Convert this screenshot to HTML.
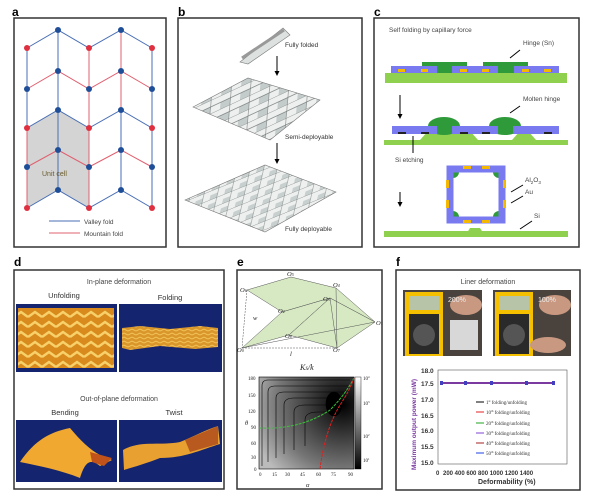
<!DOCTYPE html>
<html><head><meta charset="utf-8"><style>
html,body{margin:0;padding:0;background:#fff;}
svg{display:block;font-family:"Liberation Sans",sans-serif;}
</style></head><body>
<svg width="600" height="504" viewBox="0 0 600 504" xmlns="http://www.w3.org/2000/svg">
<defs>
<pattern id="zz" width="14" height="10" patternUnits="userSpaceOnUse">
<rect width="14" height="10" fill="#d98a1c"/>
<path d="M0,7 L7,2 L14,7" stroke="#f7d06a" stroke-width="2.5" fill="none"/>
</pattern>
<pattern id="zz2" width="8" height="4" patternUnits="userSpaceOnUse">
<rect width="8" height="4" fill="#d9962a"/>
<path d="M0,3 L4,1 L8,3" stroke="#f3c35a" stroke-width="1" fill="none"/>
</pattern>
<pattern id="tile" width="22" height="12" patternUnits="userSpaceOnUse" patternTransform="rotate(-25) skewX(-30)">
<rect width="22" height="12" fill="#eef0ef"/>
<rect x="0" y="6" width="11" height="6" fill="#c3cccb"/>
<path d="M0,0 H22 M11,0 V12 M0,6 H22" stroke="#6f7675" stroke-width="0.6"/>
</pattern>
<pattern id="tile2" width="16" height="8" patternUnits="userSpaceOnUse" patternTransform="rotate(-22) skewX(-35)">
<rect width="16" height="8" fill="#eef0ef"/>
<rect x="0" y="4" width="8" height="4" fill="#c8d0cf"/>
<path d="M0,0 H16 M8,0 V8" stroke="#6f7675" stroke-width="0.5"/>
</pattern>
<radialGradient id="cont" cx="0.88" cy="0.3" r="1">
<stop offset="0" stop-color="#000"/><stop offset="0.3" stop-color="#333"/><stop offset="0.7" stop-color="#777"/><stop offset="1" stop-color="#bbb"/>
</radialGradient>
<linearGradient id="cb" x1="0" y1="0" x2="0" y2="1"><stop offset="0" stop-color="#fff"/><stop offset="1" stop-color="#000"/></linearGradient>
</defs>
<g font-weight="bold" font-size="12" fill="#000">
<text x="12" y="16">a</text><text x="178" y="16">b</text><text x="374" y="16">c</text>
<text x="14" y="266">d</text><text x="237" y="266">e</text><text x="396" y="266">f</text>
</g>
<!-- panel a -->
<rect x="14" y="18" width="152" height="229" fill="#fff" stroke="#333" stroke-width="1.5"/>
<polygon points="27,128 58,110 89,128 89,208 58,190 27,208" fill="#d4d4d4"/>
<g fill="none" stroke-width="1">
<polyline points="27,48 58,30 89,48 121,30 152,48" stroke="#4a6fb5"/>
<polyline points="27,89 58,71 89,89 121,71 152,89" stroke="#e06070"/>
<polyline points="27,128 58,110 89,128 121,110 152,128" stroke="#4a6fb5"/>
<polyline points="27,167 58,150 89,167 121,150 152,167" stroke="#e06070"/>
<polyline points="27,208 58,190 89,208 121,190 152,208" stroke="#4a6fb5"/>
<line x1="27" y1="48" x2="27" y2="128" stroke="#4a6fb5"/><line x1="27" y1="128" x2="27" y2="208" stroke="#e06070"/>
<line x1="58" y1="30" x2="58" y2="190" stroke="#4a6fb5"/>
<line x1="89" y1="48" x2="89" y2="208" stroke="#e06070"/>
<line x1="121" y1="30" x2="121" y2="110" stroke="#e06070"/><line x1="121" y1="110" x2="121" y2="190" stroke="#4a6fb5"/>
<line x1="152" y1="48" x2="152" y2="208" stroke="#4a6fb5"/>
</g>
<g fill="#1f4e99">
<circle cx="58" cy="30" r="3"/><circle cx="121" cy="30" r="3"/>
<circle cx="58" cy="71" r="3"/><circle cx="121" cy="71" r="3"/>
<circle cx="27" cy="89" r="3"/><circle cx="89" cy="89" r="3"/><circle cx="152" cy="89" r="3"/>
<circle cx="58" cy="110" r="3"/><circle cx="121" cy="110" r="3"/>
<circle cx="58" cy="150" r="3"/><circle cx="121" cy="150" r="3"/>
<circle cx="27" cy="167" r="3"/><circle cx="89" cy="167" r="3"/><circle cx="152" cy="167" r="3"/>
<circle cx="58" cy="190" r="3"/><circle cx="121" cy="190" r="3"/>
</g>
<g fill="#e03040">
<circle cx="27" cy="48" r="3"/><circle cx="89" cy="48" r="3"/><circle cx="152" cy="48" r="3"/>
<circle cx="27" cy="128" r="3"/><circle cx="89" cy="128" r="3"/><circle cx="152" cy="128" r="3"/>
<circle cx="27" cy="208" r="3"/><circle cx="89" cy="208" r="3"/><circle cx="152" cy="208" r="3"/>
</g>
<text x="42" y="176" font-size="7" fill="#6a5a2a">Unit cell</text>
<line x1="49" y1="221" x2="80" y2="221" stroke="#4a6fb5"/><text x="84" y="224" font-size="6.5" fill="#444">Valley fold</text>
<line x1="49" y1="233" x2="80" y2="233" stroke="#e06070"/><text x="84" y="236" font-size="6.5" fill="#444">Mountain fold</text>
<!-- panel b -->
<rect x="178" y="18" width="184" height="229" fill="#fff" stroke="#333" stroke-width="1.5"/>
<polygon points="240,62 283,28 290,35 248,64" fill="#dde2e1" stroke="#777" stroke-width="0.6"/>
<polyline points="242,58 284,30" stroke="#999" stroke-width="3" fill="none"/>
<text x="285" y="47" font-size="6.5" fill="#333">Fully folded</text>
<line x1="277" y1="56" x2="277" y2="72" stroke="#000"/><polygon points="274.5,71 279.5,71 277,76" fill="#000"/>
<polygon points="193,107 248,78 320,100 270,140" fill="url(#tile)" stroke="#777" stroke-width="0.6"/>
<text x="285" y="139" font-size="6.5" fill="#333">Semi-deployable</text>
<line x1="277" y1="143" x2="277" y2="160" stroke="#000"/><polygon points="274.5,159 279.5,159 277,164" fill="#000"/>
<polygon points="185,200 265,165 336,192 265,232" fill="url(#tile2)" stroke="#777" stroke-width="0.6"/>
<text x="285" y="231" font-size="6.5" fill="#333">Fully deployable</text>
<!-- panel c -->
<rect x="374" y="18" width="205" height="229" fill="#fff" stroke="#333" stroke-width="1.5"/>
<text x="389" y="32" font-size="6.5" fill="#444">Self folding by capillary force</text>
<text x="523" y="45" font-size="6.5" fill="#444">Hinge (Sn)</text>
<line x1="520" y1="50" x2="510" y2="58" stroke="#000"/>
<rect x="385" y="73" width="182" height="10" fill="#8fd14f"/>
<rect x="422" y="62" width="45" height="11" fill="#2e9a3a"/><rect x="483" y="62" width="45" height="11" fill="#2e9a3a"/>
<rect x="391" y="66" width="46" height="7" fill="#7a7af0"/><rect x="452" y="66" width="46" height="7" fill="#7a7af0"/><rect x="514" y="66" width="45" height="7" fill="#7a7af0"/>
<g fill="#f5b800"><rect x="398" y="69" width="7" height="3"/><rect x="421" y="69" width="7" height="3"/><rect x="460" y="69" width="7" height="3"/><rect x="482" y="69" width="7" height="3"/><rect x="522" y="69" width="7" height="3"/><rect x="544" y="69" width="7" height="3"/></g>
<line x1="400" y1="95" x2="400" y2="115" stroke="#000"/><polygon points="397.5,114 402.5,114 400,119" fill="#000"/>
<text x="523" y="101" font-size="6.5" fill="#444">Molten hinge</text>
<line x1="520" y1="106" x2="510" y2="113" stroke="#000"/>
<path d="M384,140 H420 L428,131 H470 L478,140 H512 L520,131 H528 L536,140 H568 V145 H384 Z" fill="#8fd14f"/>
<ellipse cx="444" cy="126" rx="16" ry="9" fill="#2e9a3a"/><ellipse cx="505" cy="126" rx="16" ry="9" fill="#2e9a3a"/>
<rect x="392" y="126" width="45" height="8" fill="#7a7af0"/><rect x="452" y="126" width="46" height="8" fill="#7a7af0"/><rect x="513" y="126" width="46" height="8" fill="#7a7af0"/>
<g fill="#222"><rect x="398" y="132" width="8" height="2"/><rect x="421" y="132" width="8" height="2"/><rect x="460" y="132" width="8" height="2"/><rect x="482" y="132" width="8" height="2"/><rect x="544" y="132" width="8" height="2"/></g>
<line x1="413" y1="136" x2="413" y2="153" stroke="#000"/>
<text x="395" y="162" font-size="6.5" fill="#444">Si etching</text>
<line x1="400" y1="192" x2="400" y2="203" stroke="#000"/><polygon points="397.5,202 402.5,202 400,207" fill="#000"/>
<path d="M465,236 L470,228 H480 L485,236 Z" fill="#8fd14f"/>
<rect x="384" y="231" width="184" height="6" fill="#8fd14f"/>
<g fill="#2e9a3a"><circle cx="453" cy="172" r="6"/><circle cx="499" cy="172" r="6"/><circle cx="453" cy="217" r="6"/><circle cx="499" cy="217" r="6"/></g>
<rect x="450" y="169" width="52" height="51" fill="none" stroke="#7a7af0" stroke-width="7"/>
<g fill="#f5b800"><rect x="463" y="166" width="8" height="3"/><rect x="482" y="166" width="8" height="3"/><rect x="463" y="220" width="8" height="3"/><rect x="482" y="220" width="8" height="3"/><rect x="446" y="180" width="3" height="8"/><rect x="446" y="200" width="3" height="8"/><rect x="503" y="180" width="3" height="8"/><rect x="503" y="200" width="3" height="8"/></g>
<text x="525" y="182" font-size="6.5" fill="#444">Al<tspan font-size="4.5" dy="2">2</tspan><tspan dy="-2">O</tspan><tspan font-size="4.5" dy="2">3</tspan></text>
<line x1="523" y1="185" x2="511" y2="192" stroke="#000"/>
<text x="525" y="194" font-size="6.5" fill="#444">Au</text>
<line x1="523" y1="196" x2="511" y2="203" stroke="#000"/>
<text x="534" y="218" font-size="6.5" fill="#444">Si</text>
<line x1="532" y1="221" x2="520" y2="229" stroke="#000"/>
<!-- panel d -->
<rect x="14" y="270" width="210" height="219" fill="#fff" stroke="#333" stroke-width="1.5"/>
<text x="119" y="284" font-size="7" fill="#444" text-anchor="middle">In-plane deformation</text>
<text x="64" y="298" font-size="7.5" fill="#333" text-anchor="middle">Unfolding</text>
<text x="170" y="300" font-size="7.5" fill="#333" text-anchor="middle">Folding</text>
<rect x="16" y="304" width="101" height="68" fill="#14246e"/>
<rect x="18" y="308" width="96" height="60" fill="url(#zz)"/>
<rect x="119" y="304" width="103" height="68" fill="#14246e"/>
<path d="M122,328 L140,326 L170,329 L200,326 L218,328 L218,347 L195,349 L160,346 L130,350 L122,348 Z" fill="url(#zz2)"/>
<text x="119" y="401" font-size="7" fill="#444" text-anchor="middle">Out-of-plane deformation</text>
<text x="65" y="415" font-size="7.5" fill="#333" text-anchor="middle">Bending</text>
<text x="174" y="415" font-size="7.5" fill="#333" text-anchor="middle">Twist</text>
<rect x="16" y="420" width="101" height="62" fill="#14246e"/>
<path d="M20,462 C35,440 50,432 70,428 C80,440 90,450 100,455 L112,460 L100,466 C90,458 85,462 80,478 C60,470 40,466 20,462 Z" fill="#f0a830"/>
<path d="M90,452 L112,458 L104,466 L92,462 Z" fill="#c0521a"/>
<rect x="119" y="420" width="103" height="62" fill="#14246e"/>
<path d="M123,450 C140,440 160,446 180,442 C195,436 205,430 218,426 L220,444 C200,450 185,458 160,458 C145,464 130,468 124,470 Z" fill="#e8a030"/>
<path d="M185,440 L218,426 L218,444 L190,452 Z" fill="#b85a20"/>
<!-- panel e -->
<rect x="237" y="270" width="145" height="219" fill="#fff" stroke="#333" stroke-width="1.5"/>
<g stroke="#555" stroke-width="0.5" fill="#cfe5b8" fill-opacity="0.85">
<polygon points="247,290 291,277 336,288 375,322 330,298 282,312"/>
<polygon points="242,348 282,312 330,298 289,335"/>
<polygon points="289,335 330,298 375,322 337,348"/>
</g>
<g stroke="#555" stroke-width="0.5" fill="none">
<line x1="247" y1="290" x2="242" y2="348" stroke-dasharray="2,1"/>
<line x1="242" y1="348" x2="337" y2="348" stroke-dasharray="2,1"/>
<line x1="330" y1="298" x2="337" y2="348"/><line x1="336" y1="288" x2="337" y2="348"/>
<line x1="242" y1="348" x2="375" y2="322"/>
</g>
<g font-family="Liberation Serif,serif" font-style="italic" font-size="6.5" fill="#222">
<text x="240" y="292">O<tspan font-size="4">6</tspan></text><text x="287" y="276">O<tspan font-size="4">5</tspan></text>
<text x="333" y="287">O<tspan font-size="4">4</tspan></text><text x="323" y="301">O<tspan font-size="4">3</tspan></text>
<text x="278" y="313">O<tspan font-size="4">2</tspan></text><text x="376" y="325">O<tspan font-size="4">1</tspan></text>
<text x="237" y="352">O<tspan font-size="4">0</tspan></text><text x="333" y="352">O<tspan font-size="4">7</tspan></text>
<text x="285" y="338">O<tspan font-size="4">8</tspan></text><text x="253" y="320">w</text><text x="290" y="356">l</text>
<text x="300" y="370" font-size="8">K<tspan font-size="5">S</tspan>/k</text>
<text x="245" y="425">θ</text><text x="306" y="487">α</text>
</g>
<rect x="259" y="377" width="95" height="92" fill="url(#cont)" stroke="#000" stroke-width="0.6"/>
<g fill="none" stroke="#000" stroke-width="0.6">
<path d="M262,466 V386 Q262,380 268,380 H350"/>
<path d="M268,462 V392 Q268,386 275,386 H348"/>
<path d="M276,458 V398 Q276,392 284,392 H345"/>
<path d="M284,454 V405 Q284,398 294,398 H342"/>
<path d="M294,450 V412 Q294,405 305,405 H338"/>
<path d="M305,446 V420 Q305,412 318,412 H334"/>
<ellipse cx="334" cy="404" rx="8" ry="12" fill="#000"/>
</g>
<path d="M259,428 Q300,430 330,410 Q345,395 354,378" stroke="#3ac03a" stroke-width="1" fill="none" stroke-dasharray="3,1"/>
<path d="M320,469 Q325,430 340,405 Q350,390 354,378" stroke="#e02020" stroke-width="1" fill="none" stroke-dasharray="3,1"/>
<rect x="355" y="377" width="6" height="92" fill="url(#cb)" stroke="#000" stroke-width="0.4"/>
<g font-family="Liberation Serif,serif" font-size="5" fill="#222">
<text x="248" y="380">180</text><text x="248" y="397">150</text><text x="248" y="413">120</text><text x="251" y="429">90</text><text x="251" y="445">60</text><text x="251" y="459">30</text><text x="254" y="471">0</text>
<text x="259" y="476">0</text><text x="272" y="476">15</text><text x="285" y="476">30</text><text x="300" y="476">45</text><text x="316" y="476">60</text><text x="331" y="476">75</text><text x="348" y="476">90</text>
<text x="363" y="380">10<tspan font-size="3" dy="-2">4</tspan></text><text x="363" y="405">10<tspan font-size="3" dy="-2">3</tspan></text><text x="363" y="438">10<tspan font-size="3" dy="-2">2</tspan></text><text x="363" y="462">10<tspan font-size="3" dy="-2">1</tspan></text>
</g>
<!-- panel f -->
<rect x="396" y="270" width="184" height="220" fill="#fff" stroke="#333" stroke-width="1.5"/>
<text x="488" y="284" font-size="7" fill="#444" text-anchor="middle">Liner deformation</text>
<rect x="403" y="290" width="79" height="66" fill="#4a423c"/>
<rect x="405" y="292" width="38" height="64" fill="#f5c000"/><rect x="409" y="296" width="30" height="14" fill="#b8c4a8"/><rect x="409" y="314" width="30" height="40" fill="#2a2a2a"/><circle cx="424" cy="335" r="11" fill="#555"/>
<rect x="450" y="320" width="28" height="30" fill="#d8d8d8"/><ellipse cx="466" cy="305" rx="16" ry="10" fill="#c89880"/>
<text x="448" y="302" font-size="7" fill="#eee">200%</text>
<rect x="493" y="290" width="78" height="66" fill="#4a423c"/>
<rect x="495" y="292" width="38" height="64" fill="#f5c000"/><rect x="499" y="296" width="30" height="14" fill="#b8c4a8"/><rect x="499" y="314" width="30" height="40" fill="#2a2a2a"/><circle cx="514" cy="335" r="11" fill="#555"/>
<ellipse cx="555" cy="305" rx="16" ry="10" fill="#c89880"/><ellipse cx="548" cy="345" rx="18" ry="8" fill="#c89880"/>
<text x="538" y="302" font-size="7" fill="#eee">100%</text>
<rect x="438" y="370" width="129" height="94" fill="#fff" stroke="#555" stroke-width="0.6"/>
<line x1="440" y1="383" x2="555" y2="383" stroke="#7a3aa0" stroke-width="2"/>
<g fill="#4040c0"><rect x="440" y="381" width="3" height="4"/><rect x="464" y="381" width="3" height="4"/><rect x="490" y="381" width="3" height="4"/><rect x="525" y="381" width="3" height="4"/><rect x="552" y="381" width="3" height="4"/></g>
<g font-size="6.5" fill="#333" font-weight="bold">
<text x="421" y="373">18.0</text><text x="421" y="386">17.5</text><text x="421" y="402">17.0</text><text x="421" y="418">16.5</text><text x="421" y="433">16.0</text><text x="421" y="449">15.5</text><text x="421" y="465">15.0</text>
<text x="436" y="475" font-size="6">0</text><text x="443" y="475" font-size="6">200 400 600 800 1000 1200 1400</text>
<text x="478" y="484" font-size="7">Deformability (%)</text>
<text transform="translate(416,470) rotate(-90)" font-size="6.5" fill="#7a3aa0">Maximum output power (mW)</text>
</g>
<g font-family="Liberation Serif,serif" font-size="5" fill="#333">
<line x1="476" y1="402" x2="484" y2="402" stroke="#000"/><text x="486" y="404">1<tspan font-size="3" dy="-2">st</tspan><tspan dy="2"> folding/unfolding</tspan></text>
<line x1="476" y1="412" x2="484" y2="412" stroke="#e02020"/><text x="486" y="414">10<tspan font-size="3" dy="-2">th</tspan><tspan dy="2"> folding/unfolding</tspan></text>
<line x1="476" y1="423" x2="484" y2="423" stroke="#20a020"/><text x="486" y="425">20<tspan font-size="3" dy="-2">th</tspan><tspan dy="2"> folding/unfolding</tspan></text>
<line x1="476" y1="433" x2="484" y2="433" stroke="#8040d0"/><text x="486" y="435">30<tspan font-size="3" dy="-2">th</tspan><tspan dy="2"> folding/unfolding</tspan></text>
<line x1="476" y1="443" x2="484" y2="443" stroke="#a02020"/><text x="486" y="445">40<tspan font-size="3" dy="-2">th</tspan><tspan dy="2"> folding/unfolding</tspan></text>
<line x1="476" y1="453" x2="484" y2="453" stroke="#2040e0"/><text x="486" y="455">50<tspan font-size="3" dy="-2">th</tspan><tspan dy="2"> folding/unfolding</tspan></text>
</g>
</svg>
</body></html>
